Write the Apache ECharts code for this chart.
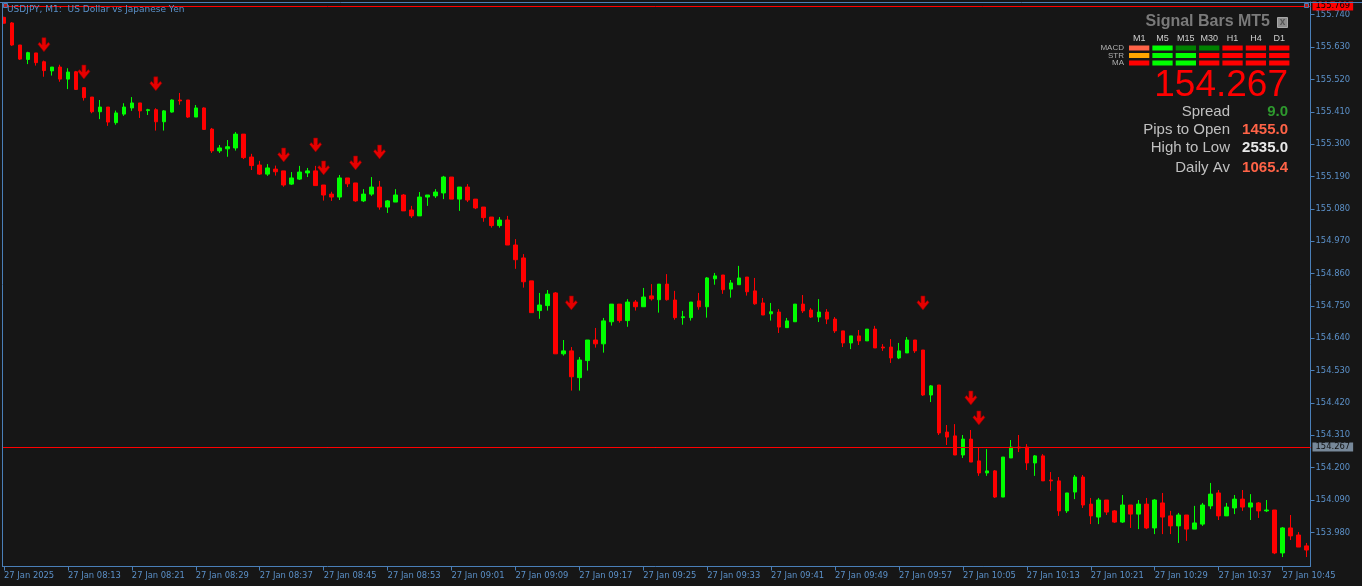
<!DOCTYPE html>
<html><head><meta charset="utf-8">
<script src="https://cdn.jsdelivr.net/npm/echarts@6/dist/echarts.min.js"></script>
<style>html,body{margin:0;padding:0;background:#161616;}#c{width:1362px;height:586px;}</style>
</head><body><div id="c"></div>
<script>
// ---- data ----
const symbolTitle = 'USDJPY, M1:  US Dollar vs Japanese Yen';
const dateLabel = '27 Jan 2025';
const dayPrefix = '27 Jan ';
const startMinute = 8 * 60 + 5;   // first bar 08:05
const barCount = 164;             // M1 bars 08:05 .. 10:48

const opens = [
155.731,155.712,155.637,155.588,155.610,155.580,155.549,155.562,155.521,155.546,
155.492,155.460,155.410,155.426,155.373,155.402,155.423,155.440,155.414,155.417,
155.376,155.409,155.450,155.450,155.392,155.423,155.351,155.277,155.284,155.287,
155.334,155.256,155.229,155.198,155.215,155.209,155.164,155.181,155.202,155.209,
155.161,155.130,155.120,155.185,155.168,155.107,155.130,155.154,155.086,155.103,
155.127,155.076,155.056,155.120,155.124,155.134,155.188,155.113,155.154,155.113,
155.086,155.052,155.023,155.042,154.957,154.913,154.835,154.734,154.751,154.794,
154.587,154.597,154.506,154.564,154.634,154.621,154.696,154.756,154.700,154.763,
154.747,154.784,154.771,154.824,154.770,154.710,154.710,154.767,154.747,154.842,
154.855,154.807,154.822,154.848,154.801,154.760,154.723,154.729,154.676,154.696,
154.756,154.736,154.712,154.729,154.705,154.665,154.624,154.648,154.631,154.671,
154.610,154.610,154.573,154.590,154.634,154.600,154.447,154.481,154.321,154.308,
154.243,154.297,154.223,154.182,154.189,154.100,154.233,154.270,154.270,154.216,
154.240,154.158,154.155,154.053,154.117,154.168,154.076,154.032,154.090,154.053,
154.015,154.073,154.042,154.076,153.995,154.080,154.036,154.002,154.039,153.991,
154.008,154.070,154.114,154.036,154.063,154.093,154.066,154.080,154.053,154.056,
153.910,153.995,153.971,153.934];

const closes = [
155.711,155.637,155.589,155.611,155.577,155.550,155.562,155.521,155.545,155.486,
155.458,155.410,155.426,155.375,155.406,155.426,155.440,155.413,155.417,155.376,
155.413,155.450,155.447,155.392,155.423,155.350,155.277,155.287,155.291,155.334,
155.254,155.227,155.198,155.219,155.206,155.161,155.185,155.205,155.209,155.159,
155.127,155.120,155.185,155.165,155.107,155.130,155.154,155.086,155.107,155.127,
155.073,155.056,155.120,155.127,155.137,155.188,155.113,155.154,155.110,155.083,
155.050,155.023,155.042,154.957,154.907,154.832,154.727,154.753,154.790,154.587,
154.597,154.509,154.566,154.634,154.621,154.699,154.756,154.700,154.763,154.747,
154.780,154.774,154.824,154.771,154.710,154.713,154.763,154.747,154.845,154.852,
154.805,154.828,154.845,154.798,154.757,154.719,154.730,154.678,154.699,154.756,
154.733,154.712,154.729,154.705,154.665,154.624,154.648,154.631,154.671,154.607,
154.607,154.573,154.597,154.634,154.597,154.447,154.478,154.318,154.304,154.243,
154.297,154.219,154.182,154.189,154.100,154.236,154.270,154.267,154.216,154.240,
154.155,154.155,154.053,154.114,154.168,154.073,154.036,154.090,154.049,154.015,
154.073,154.042,154.076,153.995,154.090,154.032,154.002,154.039,153.991,154.012,
154.073,154.110,154.036,154.066,154.093,154.066,154.080,154.053,154.056,153.910,
153.995,153.968,153.930,153.920];

const highs = [
155.733,155.715,155.637,155.614,155.610,155.584,155.562,155.570,155.558,155.549,
155.494,155.460,155.450,155.426,155.414,155.439,155.460,155.440,155.420,155.422,
155.416,155.452,155.474,155.450,155.433,155.425,155.355,155.297,155.314,155.341,
155.334,155.267,155.243,155.232,155.227,155.209,155.205,155.226,155.219,155.226,
155.161,155.138,155.195,155.185,155.168,155.147,155.188,155.175,155.110,155.147,
155.130,155.090,155.137,155.127,155.147,155.192,155.188,155.154,155.164,155.113,
155.086,155.052,155.052,155.056,154.977,154.926,154.835,154.794,154.804,154.797,
154.634,154.610,154.576,154.634,154.675,154.709,154.756,154.756,154.773,154.770,
154.811,154.824,154.824,154.858,154.801,154.733,154.763,154.794,154.848,154.862,
154.855,154.838,154.886,154.848,154.845,154.777,154.760,154.739,154.709,154.756,
154.787,154.743,154.773,154.739,154.712,154.665,154.648,154.668,154.671,154.682,
154.620,154.637,154.624,154.644,154.634,154.600,154.481,154.481,154.345,154.348,
154.311,154.328,154.267,154.263,154.192,154.236,154.294,154.311,154.280,154.243,
154.246,154.185,154.168,154.114,154.175,154.175,154.097,154.097,154.090,154.056,
154.107,154.073,154.090,154.097,154.093,154.114,154.053,154.046,154.039,154.070,
154.080,154.148,154.124,154.080,154.107,154.124,154.110,154.083,154.090,154.056,
153.998,154.039,153.981,153.944];

const lows = [
155.710,155.634,155.586,155.572,155.567,155.529,155.533,155.512,155.487,155.484,
155.448,155.405,155.385,155.362,155.366,155.396,155.413,155.389,155.399,155.346,
155.346,155.407,155.434,155.389,155.392,155.348,155.270,155.270,155.257,155.278,
155.249,155.212,155.195,155.192,155.193,155.155,155.161,155.178,155.188,155.159,
155.108,155.107,155.110,155.154,155.104,155.103,155.124,155.077,155.066,155.103,
155.073,155.049,155.056,155.090,155.117,155.113,155.113,155.073,155.103,155.079,
155.036,155.016,155.016,154.957,154.876,154.812,154.727,154.706,154.734,154.587,
154.581,154.462,154.462,154.530,154.608,154.591,154.683,154.693,154.679,154.734,
154.747,154.768,154.727,154.768,154.703,154.686,154.700,154.737,154.710,154.822,
154.791,154.778,154.822,154.785,154.754,154.719,154.700,154.658,154.676,154.696,
154.726,154.709,154.695,154.688,154.658,154.610,154.603,154.617,154.631,154.607,
154.597,154.556,154.569,154.590,154.590,154.444,154.423,154.311,154.277,154.243,
154.233,154.219,154.172,154.172,154.097,154.100,154.233,154.253,154.192,154.172,
154.155,154.121,154.036,154.046,154.093,154.063,154.008,154.008,154.039,154.012,
154.012,153.995,153.991,153.991,153.974,153.974,153.974,153.944,153.951,153.991,
154.002,154.059,154.022,154.036,154.042,154.053,154.022,154.029,154.049,153.906,
153.896,153.954,153.930,153.896];

const yTicks = [153.980,154.090,154.200,154.310,154.420,154.530,154.640,154.750,
                154.860,154.970,155.080,155.190,155.300,155.410,155.520,155.630,155.740];

const arrowIdx   = [5, 10, 19, 35, 39, 40, 44, 47, 71, 115, 121, 122];
const arrowPrice = [155.638,155.545,155.505,155.263,155.297,155.219,155.236,155.273,154.760,154.760,154.437,154.369];

const highLinePrice = 155.769;
const bidPrice = 154.267;
const askPrice = 154.2725;

const panelTitle = 'Signal Bars MT5';
const timeframes = ['M1','M5','M15','M30','H1','H4','D1'];
const signalRows = ['MACD','STR','MA'];
const signalColors = [
  ['#ff6347','#00ff00','#008000','#008000','#ff0000','#ff0000','#ff0000'],
  ['#ffa500','#00ff00','#00ff00','#ff0000','#ff0000','#ff0000','#ff0000'],
  ['#ff0000','#00ff00','#00ff00','#ff0000','#ff0000','#ff0000','#ff0000']
];
const panelPrice = '154.267';
const statLabels = ['Spread','Pips to Open','High to Low','Daily Av'];
const statValues = ['9.0','1455.0','2535.0','1065.4'];

// ---- build ----
const categories = [];
for (let i = 0; i < barCount; i++) {
  const m = startMinute + i;
  categories.push(String(Math.floor(m / 60)).padStart(2, '0') + ':' + String(m % 60).padStart(2, '0'));
}
const candleData = opens.map((o, i) => [o, closes[i], lows[i], highs[i]]);
const arrowData = arrowIdx.map((k, i) => [k, arrowPrice[i]]);

const AX = '#4a7fb8', AXT = '#5b90c8', BG = '#161616';
const AXFONT = 'DejaVu Sans';
const PF = '"Liberation Sans", Arial, sans-serif';

const g = [];
g.push({type:'rect', shape:{x:0,y:0,width:2,height:586}, style:{fill:BG}, z:100});
g.push({type:'line', shape:{x1:2.5,y1:2.5,x2:2.5,y2:567}, style:{stroke:AX,lineWidth:1}, z:101});
g.push({type:'line', shape:{x1:0,y1:2.5,x2:1362,y2:2.5}, style:{stroke:AX,lineWidth:1}, z:101});
g.push({type:'rect', shape:{x:3.5,y:3.5,width:4,height:4}, style:{fill:'#b02020',stroke:AX,lineWidth:1}, z:102});
g.push({type:'rect', shape:{x:1304.5,y:3.5,width:4,height:4}, style:{fill:'#b02020',stroke:AX,lineWidth:1}, z:102});

// panel
g.push({type:'text', z:110, style:{text:panelTitle, x:1270, y:22, align:'right', verticalAlign:'middle', font:'bold 16px ' + PF, fill:'#7a7a7a'}});
g.push({type:'rect', z:110, shape:{x:1277.5,y:17.5,width:10,height:10}, style:{fill:'#8c8c8c',stroke:'#a8a8a8',lineWidth:1}});
g.push({type:'text', z:111, style:{text:'x', x:1282.5, y:22, align:'center', verticalAlign:'middle', font:'bold 10px ' + PF, fill:'#555'}});
const colStep = 23.35, colX0 = 1129, barW = 20.3;
const rowY = [45.5, 53, 60.5];
timeframes.forEach((tf, i) => {
  g.push({type:'text', z:110, style:{text:tf, x:colX0 + colStep*i + barW/2, y:38.5, align:'center', verticalAlign:'middle', font:'9px ' + PF, fill:'#d0d0d0'}});
});
signalRows.forEach((r, j) => {
  g.push({type:'text', z:110, style:{text:r, x:1124, y:rowY[j] + 2.5, align:'right', verticalAlign:'middle', font:'8px ' + PF, fill:'#b0b0b0'}});
  timeframes.forEach((tf, i) => {
    g.push({type:'rect', z:110, shape:{x:colX0 + colStep*i, y:rowY[j], width:barW, height:5}, style:{fill:signalColors[j][i]}});
  });
});
g.push({type:'text', z:110, style:{text:panelPrice, x:1288, y:86, align:'right', verticalAlign:'middle', font:'37px ' + PF, fill:'#ff0000'}});
const statY = [111.8, 129.8, 147.8, 167.8];
const statColors = ['#2e9a2e','#ff6347','#e8e8e8','#ff6347'];
statLabels.forEach((s, i) => {
  g.push({type:'text', z:110, style:{text:s, x:1230, y:statY[i], align:'right', verticalAlign:'middle', font:'15px ' + PF, fill:'#c0c0c0'}});
  g.push({type:'text', z:110, style:{text:statValues[i], x:1288, y:statY[i], align:'right', verticalAlign:'middle', font:'bold 15px ' + PF, fill:statColors[i]}});
});

const priceLabel = (bg, fg) => ({show: true, position: 'end', distance: 2, backgroundColor: bg, color: fg,
  padding: [1, 3, 0, 3], fontSize: 8.4, fontFamily: AXFONT});

const chart = echarts.init(document.getElementById('c'), null, {renderer:'canvas'});
chart.setOption({
  backgroundColor: BG,
  animation: false,
  title: {text: symbolTitle, left: 2, top: 0, textStyle: {color: AXT, fontSize: 9, fontWeight: 'normal', fontFamily: AXFONT}},
  grid: {left: -1.5, right: 51.5, top: 2, bottom: 19.5, containLabel: false},
  xAxis: {
    type: 'category', data: categories, boundaryGap: true,
    axisLine: {show: true, lineStyle: {color: AX, width: 1}},
    axisTick: {show: true, length: 4, alignWithLabel: true, interval: (i) => i % 8 === 0, lineStyle: {color: AX}},
    axisLabel: {interval: (i) => i % 8 === 0, align: 'left', margin: 5, color: AXT, fontSize: 8.4, fontFamily: AXFONT,
      formatter: (v, i) => i === 0 ? dateLabel : dayPrefix + v},
    splitLine: {show: false}
  },
  yAxis: {
    type: 'value', position: 'right', min: 153.8639, max: 155.7832,
    axisLine: {show: true, lineStyle: {color: AX, width: 1}},
    axisTick: {show: true, length: 4, customValues: yTicks, lineStyle: {color: AX}},
    axisLabel: {customValues: yTicks, margin: 5, color: AXT, fontSize: 8.4, fontFamily: AXFONT, formatter: (v) => v.toFixed(3)},
    splitLine: {show: false}
  },
  series: [
    {
      type: 'candlestick', data: candleData, barWidth: 4,
      itemStyle: {color: '#00ff00', color0: '#ff0000', borderColor: '#00ff00', borderColor0: '#ff0000', borderWidth: 1},
      markLine: {
        silent: true, symbol: 'none', animation: false,
        data: [
          {yAxis: highLinePrice, lineStyle: {color: '#ff0000', width: 1, type: 'solid'},
           label: Object.assign(priceLabel('#ff0000', '#000'), {formatter: highLinePrice.toFixed(3)})},
          {yAxis: bidPrice, lineStyle: {color: '#778899', width: 1, type: 'solid'},
           label: Object.assign(priceLabel('#778899', '#111'), {formatter: bidPrice.toFixed(3)})},
          {yAxis: askPrice, lineStyle: {color: '#ff0000', width: 1, type: 'solid'}, label: {show: false}}
        ]
      }
    },
    {
      type: 'scatter', data: arrowData, symbol: 'path://M4,0L8,0L8,7L10.5,4.5L12,6.5L6,14L0,6.5L1.5,4.5L4,7Z',
      symbolSize: [12, 14], itemStyle: {color: '#e60000', borderColor: '#8b0000', borderWidth: 0.6, opacity: 1}, z: 5
    }
  ],
  graphic: g
});
</script></body></html>
